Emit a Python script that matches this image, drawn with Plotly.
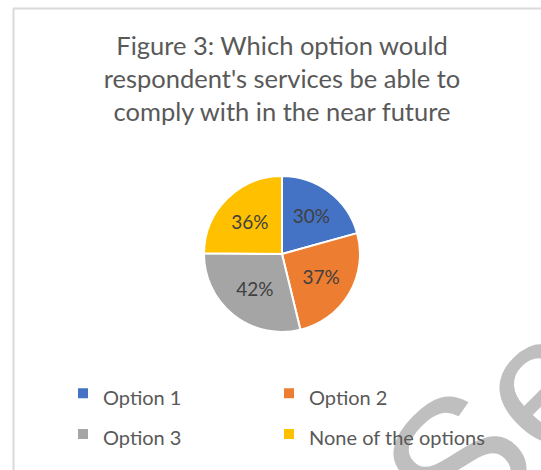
import plotly.graph_objects as go

# Survey responses (shares shown as percent labels)
categories = ["Option 1", "Option 2", "Option 3", "None of the options"]
values = [30, 37, 42, 36]
colors = ["#4472C4", "#ED7D31", "#A5A5A5", "#FFC000"]

title_text = ("Figure 3: Which option would<br>"
              "respondent's services be able to<br>"
              "comply with in the near future")

W, H = 541, 470
FONT = "Lato, Carlito, Calibri, sans-serif"

# legend entries: smaller text inside a taller legend row
legend_labels = [f"<span style='font-size:20px'>{c}</span>" for c in categories]

fig = go.Figure(
    go.Pie(
        labels=legend_labels,
        values=values,
        sort=False,
        direction="clockwise",
        rotation=0,
        marker=dict(colors=colors, line=dict(color="white", width=2)),
        texttemplate="%{value}%",
        textposition="inside",
        insidetextorientation="horizontal",
        textfont=dict(family=FONT, size=19, color="#404040"),
        hoverinfo="label+value",
        domain=dict(x=[(282 - 78) / W, (282 + 78) / W],
                    y=[1 - (254 + 78) / H, 1 - (254 - 78) / H]),
    )
)

# chart frame (top and left edges visible)
fig.add_shape(type="line", xref="paper", yref="paper",
              x0=13 / W, x1=1.02, y0=1 - 8.5 / H, y1=1 - 8.5 / H,
              line=dict(color="#D9D9D9", width=2))
fig.add_shape(type="line", xref="paper", yref="paper",
              x0=13.5 / W, x1=13.5 / W, y0=-0.02, y1=1 - 8.5 / H,
              line=dict(color="#D9D9D9", width=2))

# watermark, drawn as a shape label so the legend stays on top
cx, cy = 482, 414
fig.add_shape(type="rect", xref="paper", yref="paper",
              x0=(cx - 40) / W, x1=(cx + 40) / W,
              y0=1 - (cy + 40) / H, y1=1 - (cy - 40) / H,
              line=dict(width=0), fillcolor="rgba(0,0,0,0)",
              label=dict(text="Se", textposition="middle center", textangle=-45,
                         font=dict(family="Liberation Sans, Arial, sans-serif",
                                   size=185, color="#BFBFBF")))

fig.update_layout(
    width=W, height=H,
    margin=dict(l=0, r=0, t=0, b=0, autoexpand=False),
    paper_bgcolor="white",
    plot_bgcolor="white",
    title=dict(text=title_text, x=282 / W, xanchor="center",
               y=1 - 55 / H, yanchor="middle", xref="container", yref="container",
               font=dict(family=FONT, size=25.5, color="#595959")),
    showlegend=True,
    legend=dict(
        orientation="h",
        x=78 / W, xanchor="left",
        y=1 - 368 / H, yanchor="top",
        indentation=-15,
        itemwidth=30,
        entrywidth=176, entrywidthmode="pixels",
        bgcolor="rgba(0,0,0,0)",
        font=dict(family=FONT, size=29, color="#595959"),
        traceorder="normal",
    ),
)

fig.write_html("out.html")
